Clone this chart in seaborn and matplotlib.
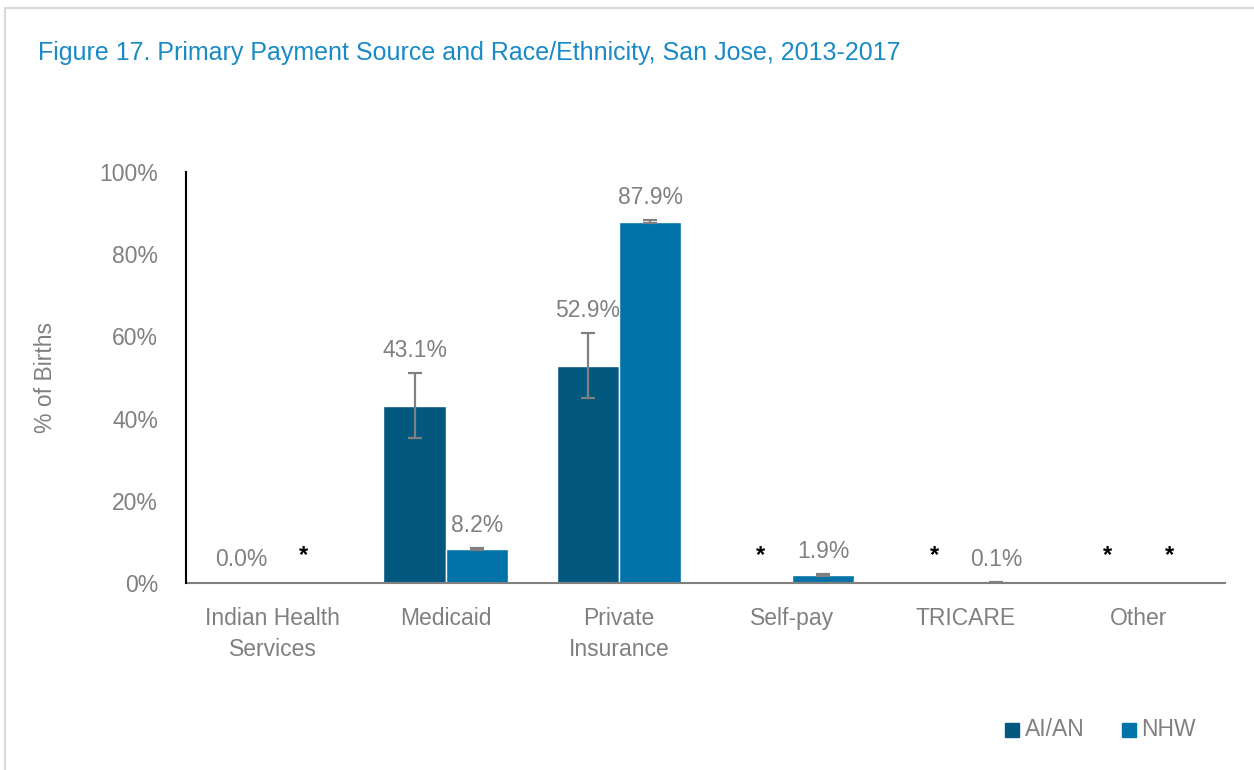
import numpy as np
import pandas as pd
import seaborn as sns
import matplotlib.pyplot as plt
from matplotlib.patches import Rectangle

# chart values
categories = ["Indian Health\nServices", "Medicaid", "Private\nInsurance", "Self-pay", "TRICARE", "Other"]
aian = [0.0, 43.1, 52.9, 0.0, 0.0, 0.0]
nhw = [0.0, 8.2, 87.9, 1.9, 0.1, 0.0]
aian_err = [0.0, 7.9, 7.9, 0.0, 0.0, 0.0]
nhw_err = [0.0, 0.3, 0.4, 0.2, 0.1, 0.0]
aian_labels = ["0.0%", "43.1%", "52.9%", "*", "*", "*"]
nhw_labels = ["*", "8.2%", "87.9%", "1.9%", "0.1%", "*"]
groups = ["AI/AN", "NHW"]
colors = ["#02587f", "#0173a8"]

sns.set_theme(style="white")
plt.rcParams['font.family'] = ['Liberation Sans', 'DejaVu Sans']
grey = "#808080"

df = pd.DataFrame({
    "cat": categories * 2,
    "val": aian + nhw,
    "grp": [groups[0]] * 6 + [groups[1]] * 6,
})

fig = plt.figure(figsize=(12.54, 7.7), dpi=100)
ax = fig.add_axes([0.1483, 0.2429, 0.8286, 0.5338])
sns.barplot(data=df, x="cat", y="val", hue="grp", palette=colors, width=0.72,
            saturation=1, ax=ax, legend=False)

# error bars + labels
errs = [aian_err, nhw_err]
labs = [aian_labels, nhw_labels]
vals = [aian, nhw]
bar_conts = list(ax.containers)
for gi, cont in enumerate(bar_conts):
    for i, bar in enumerate(cont):
        xc = bar.get_x() + bar.get_width() / 2
        v = vals[gi][i]
        e = errs[gi][i]
        if e > 0:
            ax.errorbar(xc, v, yerr=e, color=grey, capsize=5, elinewidth=1.6, capthick=1.6)
        lab = labs[gi][i]
        if lab == "*":
            ax.text(xc, 6.6, "*", ha="center", va="center", fontsize=17,
                    fontweight="bold", color="black")
        else:
            ax.text(xc, v + e + 5.6, lab, ha="center", va="center", fontsize=16.5, color=grey)

ax.set_ylim(0, 100)
ax.set_xlim(-0.5, 5.5)
ax.set_yticks(range(0, 101, 20))
ax.set_yticklabels([f"{t}%" for t in range(0, 101, 20)], fontsize=16.5, color=grey)
ax.tick_params(axis="x", labelsize=16.5, labelcolor=grey, pad=17, length=0)
for t in ax.get_xticklabels():
    t.set_linespacing(1.45)
ax.tick_params(axis="y", length=0, pad=20)
ax.set_xlabel("")
ax.set_ylabel("% of Births", fontsize=16.5, color=grey)
ax.yaxis.set_label_coords(-0.124, 0.5)
for s in ["top", "right"]:
    ax.spines[s].set_visible(False)
ax.spines["left"].set_color("black")
ax.spines["left"].set_linewidth(1.5)
ax.spines["bottom"].set_color(grey)
ax.spines["bottom"].set_linewidth(1.5)
ax.spines["left"].set_zorder(5)

fig.text(0.030, 0.931, "Figure 17. Primary Payment Source and Race/Ethnicity, San Jose, 2013-2017",
         fontsize=18, color="#1a8ac6", va="center", ha="left")

# legend squares
for x0, g, c in [(0.8015, groups[0], colors[0]), (0.8945, groups[1], colors[1])]:
    fig.patches.append(Rectangle((x0, 0.043), 0.0112, 0.018, transform=fig.transFigure,
                                 color=c, figure=fig))
    fig.text(x0 + 0.0155, 0.052, g, fontsize=16.5, color=grey, va="center")

# light frame
fig.patches.append(Rectangle((0.004, -0.01), 1.0, 1.0, transform=fig.transFigure,
                             fill=False, edgecolor="#d9d9d9", linewidth=1.5, figure=fig))

fig.savefig("out.png", dpi=100)
